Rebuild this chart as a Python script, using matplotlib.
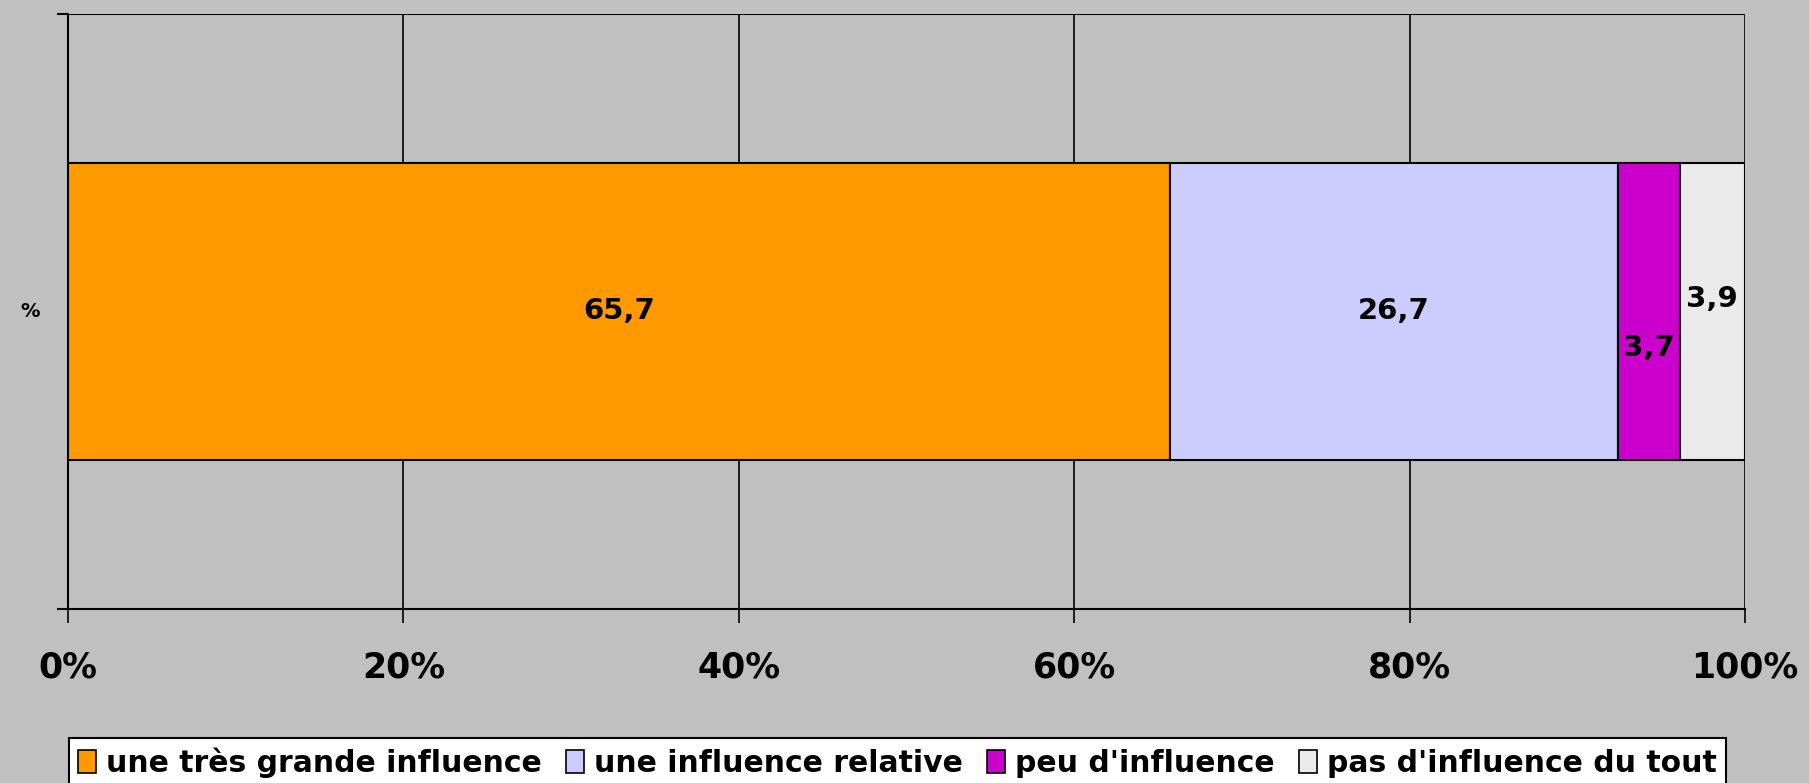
import matplotlib
matplotlib.use("Agg")
import matplotlib.pyplot as plt
from matplotlib.patches import Patch
from matplotlib.ticker import PercentFormatter

categories = ["une très grande influence", "une influence relative",
              "peu d'influence", "pas d'influence du tout"]
values = [65.7, 26.7, 3.7, 3.9]
value_labels = ["65,7", "26,7", "3,7", "3,9"]
colors = ["#FF9900", "#CCCCFF", "#CC00CC", "#EAEAEA"]
# vertical nudge of the small labels (points), as Excel placed them
label_dy = [0, 0, -26, 9]
x_ticks = [0, 20, 40, 60, 80, 100]

bg = "#C0C0C0"
fig = plt.figure(figsize=(18.09, 7.83), dpi=100, facecolor=bg)
ax = fig.add_axes([0.0376, 0.2222, 0.9270, 0.7600])
ax.set_facecolor(bg)

left = 0
for val, lab, col, dy in zip(values, value_labels, colors, label_dy):
    ax.barh(0, val, left=left, height=0.5, color=col, edgecolor="black",
            linewidth=1.5, zorder=3)
    ax.annotate(lab, (left + val / 2, 0), xytext=(0, dy), textcoords="offset points",
                ha="center", va="center", fontsize=21, fontweight="bold", zorder=4)
    left += val

ax.set_xlim(0, 100)
ax.set_ylim(-0.5, 0.5)
ax.set_xticks(x_ticks)
ax.xaxis.set_major_formatter(PercentFormatter(decimals=0))
ax.set_yticks([-0.5, 0.5])
ax.set_yticklabels([])
ax.grid(axis="x", color="black", linewidth=1.2, zorder=0)
ax.axhline(0.5, color="black", linewidth=1.5, zorder=1)

for s in ["top", "right"]:
    ax.spines[s].set_visible(False)
ax.spines["left"].set_linewidth(1.5)
ax.spines["bottom"].set_linewidth(1.5)
ax.tick_params(axis="x", direction="out", length=10, width=1.2, pad=20,
               labelsize=25)
ax.tick_params(axis="y", direction="out", length=8, width=1.5)
for t in ax.get_xticklabels():
    t.set_fontweight("bold")

fig.text(0.011, 0.602, "%", fontsize=14, fontweight="bold", ha="left", va="center")

handles = [Patch(facecolor=c, edgecolor="black", linewidth=1.2) for c in colors]
leg = fig.legend(handles, categories, loc="lower left", bbox_to_anchor=(0.038, -0.005),
                 ncol=4, frameon=True, fancybox=False, edgecolor="black",
                 framealpha=1, fontsize=21.5, handlelength=0.6, handleheight=0.8,
                 handletextpad=0.35, columnspacing=0.8, borderpad=0.3,
                 borderaxespad=0)
leg.get_frame().set_linewidth(1.5)
for t in leg.get_texts():
    t.set_fontweight("bold")

fig.savefig("out.png", dpi=100, facecolor=bg)
